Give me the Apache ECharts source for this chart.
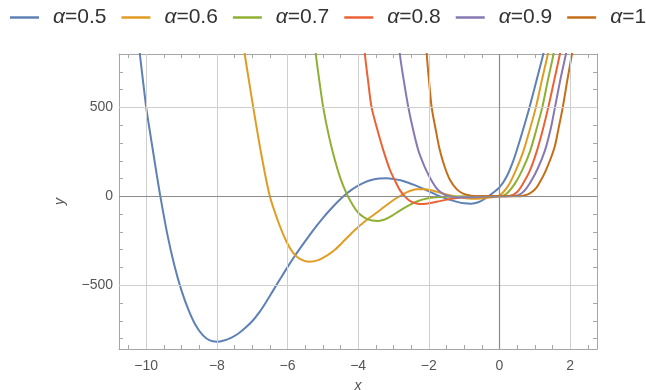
<!DOCTYPE html>
<html>
<head>
<meta charset="utf-8">
<script src="https://cdn.jsdelivr.net/npm/echarts@6/dist/echarts.min.js"></script>
<style>
html,body{margin:0;padding:0;background:#fff;}
#chart{width:646px;height:390px;}
</style>
</head>
<body>
<div id="chart"></div>
<script>
// ---- data ----
const seriesNames = ['α=0.5', 'α=0.6', 'α=0.7', 'α=0.8', 'α=0.9', 'α=1'];
const alpha05 = [[-10.28,960],[-10.18,800],[-10.1,665],[-10.0,500],[-9.9,370],[-9.8,245],[-9.7,120],[-9.6,0],[-9.4,-215],[-9.2,-390],[-9.0,-530],[-8.8,-640],[-8.6,-725],[-8.4,-780],[-8.2,-810],[-8.0,-817],[-7.8,-810],[-7.6,-795],[-7.4,-772],[-7.2,-740],[-7.0,-702],[-6.8,-652],[-6.6,-592],[-6.4,-527],[-6.2,-462],[-6.0,-398],[-5.8,-337],[-5.6,-280],[-5.4,-225],[-5.2,-172],[-5.0,-122],[-4.8,-77],[-4.6,-35],[-4.4,3],[-4.2,35],[-4.0,60],[-3.8,80],[-3.6,93],[-3.4,100],[-3.2,102],[-3.0,98],[-2.8,90],[-2.6,78],[-2.4,63],[-2.2,46],[-2.0,28],[-1.8,10],[-1.6,-6],[-1.4,-20],[-1.2,-31],[-1.0,-39],[-0.8,-41],[-0.6,-33],[-0.4,-12],[-0.2,17],[0,50],[0.2,110],[0.4,205],[0.6,330],[0.8,465],[1.0,615],[1.2,768],[1.3,850],[1.4,940]];
const alpha06 = [[-7.3,960],[-7.21,800],[-7.1,660],[-6.97,500],[-6.75,245],[-6.5,0],[-6.25,-150],[-6.03,-255],[-5.85,-315],[-5.65,-352],[-5.4,-367],[-5.15,-360],[-4.9,-335],[-4.66,-300],[-4.4,-250],[-4.1,-190],[-3.76,-133],[-3.5,-95],[-3.2,-50],[-2.9,-8],[-2.6,25],[-2.35,40],[-2.1,40],[-1.8,27],[-1.5,10],[-1.2,-3],[-0.9,-12],[-0.6,-13],[-0.3,-7],[0,5],[0.25,60],[0.45,140],[0.67,250],[0.85,370],[1.03,500],[1.2,653],[1.37,800],[1.45,880]];
const alpha07 = [[-5.28,960],[-5.2,800],[-5.1,650],[-4.99,500],[-4.83,340],[-4.66,204],[-4.5,100],[-4.33,17],[-4.15,-50],[-4.0,-92],[-3.8,-122],[-3.6,-136],[-3.43,-138],[-3.25,-130],[-3.05,-110],[-2.82,-80],[-2.54,-48],[-2.3,-26],[-2.02,-11],[-1.7,-4],[-1.3,-1],[-0.8,0],[0,0],[0.2,15],[0.44,73],[0.65,150],[0.86,250],[1.05,380],[1.21,500],[1.37,653],[1.53,800],[1.6,880]];
const alpha08 = [[-3.87,960],[-3.81,800],[-3.72,650],[-3.62,500],[-3.45,370],[-3.29,260],[-3.1,148],[-2.95,85],[-2.82,35],[-2.68,0],[-2.54,-25],[-2.35,-40],[-2.16,-43],[-1.95,-38],[-1.69,-27],[-1.45,-17],[-1.21,-9],[-0.9,-3],[-0.5,0],[0,0],[0.3,3],[0.5,25],[0.63,60],[0.85,140],[1.05,250],[1.22,370],[1.38,500],[1.55,653],[1.71,800],[1.78,880]];
const alpha09 = [[-2.87,960],[-2.82,800],[-2.7,640],[-2.58,500],[-2.44,370],[-2.3,260],[-2.18,195],[-2.06,140],[-1.92,88],[-1.78,45],[-1.64,20],[-1.5,5],[-1.3,-4],[-1.1,-7],[-0.8,-5],[-0.4,-1],[0,0],[0.5,5],[0.7,30],[0.86,73],[1.08,155],[1.29,260],[1.45,380],[1.57,500],[1.72,653],[1.88,800],[1.95,880]];
const alpha10 = [[-2.1,960],[-2.06,800],[-1.99,640],[-1.92,500],[-1.8,370],[-1.69,260],[-1.55,165],[-1.4,92],[-1.22,42],[-1.03,15],[-0.8,4],[-0.5,0],[0,0],[0.5,0],[0.7,5],[0.86,17],[1.0,38],[1.1,65],[1.3,140],[1.55,270],[1.67,380],[1.79,500],[1.92,653],[2.05,800],[2.1,870]];
const xLabelValues = [-10, -8, -6, -4, -2, 0, 2];
const yLabelValues = [-500, 0, 500];
const xGridValues = [-10, -8, -6, -4, -2, 2];
const yGridValues = [-500, 500];
const xRange = [-10.77, 2.76];
const yRange = [-858, 800];
// ------------------------------------------------

const colors = ['#5E81B5', '#E19C24', '#8FB032', '#EB6235', '#8778B3', '#C56E1A'];
const allData = [alpha05, alpha06, alpha07, alpha08, alpha09, alpha10];

const xMinor = [];
for (let v = -10.5; v <= 2.51; v += 0.5) xMinor.push(Math.round(v * 10) / 10);
const yMinor = [];
for (let v = -800; v <= 800; v += 100) yMinor.push(v);

const fmt = v => String(v).replace('-', '\u2212');
const frameColor = '#a6a6a6';
const labelColor = '#555555';
const FONT = '"Liberation Sans", Arial, sans-serif';

function makeX(pos, showLabel) {
  return {
    type: 'value', min: xRange[0], max: xRange[1], position: pos,
    axisLine: { show: true, onZero: false, lineStyle: { color: frameColor, width: 1 } },
    axisTick: { show: true, inside: true, length: 4, customValues: xMinor, lineStyle: { color: frameColor } },
    axisLabel: { show: showLabel, customValues: xLabelValues, formatter: fmt, color: labelColor, fontSize: 14, fontFamily: FONT, margin: 10 },
    splitLine: { show: false },
    name: showLabel ? 'x' : '', nameLocation: 'middle', nameGap: 30,
    nameTextStyle: { fontStyle: 'italic', color: labelColor, fontSize: 14, fontFamily: FONT }
  };
}
function makeY(pos, showLabel) {
  return {
    type: 'value', min: yRange[0], max: yRange[1], position: pos,
    axisLine: { show: true, onZero: false, lineStyle: { color: frameColor, width: 1 } },
    axisTick: { show: true, inside: true, length: 4, customValues: yMinor, lineStyle: { color: frameColor } },
    axisLabel: { show: showLabel, customValues: yLabelValues, formatter: fmt, color: labelColor, fontSize: 14, fontFamily: FONT, margin: 6 },
    splitLine: { show: false },
    name: showLabel ? 'y' : '', nameLocation: 'middle', nameGap: 52, nameRotate: 90,
    nameTextStyle: { fontStyle: 'italic', color: labelColor, fontSize: 14, fontFamily: FONT }
  };
}

const series = [
  {
    type: 'line', data: [], silent: true, z: 1,
    markLine: {
      silent: true, symbol: 'none', animation: false, label: { show: false },
      lineStyle: { color: '#cfcfcf', width: 1, type: 'solid' },
      data: xGridValues.map(v => ({ xAxis: v })).concat(yGridValues.map(v => ({ yAxis: v })))
    }
  },
  {
    type: 'line', data: [], silent: true, z: 1,
    markLine: {
      silent: true, symbol: 'none', animation: false, label: { show: false },
      lineStyle: { color: '#8c8c8c', width: 1.2, type: 'solid' },
      data: [{ xAxis: 0 }, { yAxis: 0 }]
    }
  }
];
allData.forEach((d, i) => {
  series.push({
    name: seriesNames[i], type: 'line', data: d, smooth: 0.3,
    symbol: 'none', showSymbol: false, clip: true, z: 3,
    lineStyle: { color: colors[i], width: 2 }, itemStyle: { color: colors[i] }
  });
});

const chart = echarts.init(document.getElementById('chart'), null, { renderer: 'canvas' });
chart.setOption({
  animation: false,
  backgroundColor: '#ffffff',
  color: colors,
  grid: { left: 119, top: 54, width: 478, height: 295, containLabel: false, outerBoundsMode: 'none' },
  legend: {
    data: seriesNames, left: 10, top: 7, width: 900, padding: 0,
    icon: 'rect', itemWidth: 29, itemHeight: 2.5, itemGap: 15,
    formatter: name => '{s|}{i|α}{n|' + name.slice(1) + '}',
    textStyle: {
      fontFamily: FONT, fontSize: 21, color: '#333',
      rich: {
        s: { width: 9 },
        i: { fontStyle: 'italic', fontSize: 21, fontFamily: FONT, color: '#333' },
        n: { fontSize: 21, fontFamily: FONT, color: '#333' }
      }
    }
  },
  xAxis: [makeX('bottom', true), makeX('top', false)],
  yAxis: [makeY('left', true), makeY('right', false)],
  series: series
});
</script>
</body>
</html>
